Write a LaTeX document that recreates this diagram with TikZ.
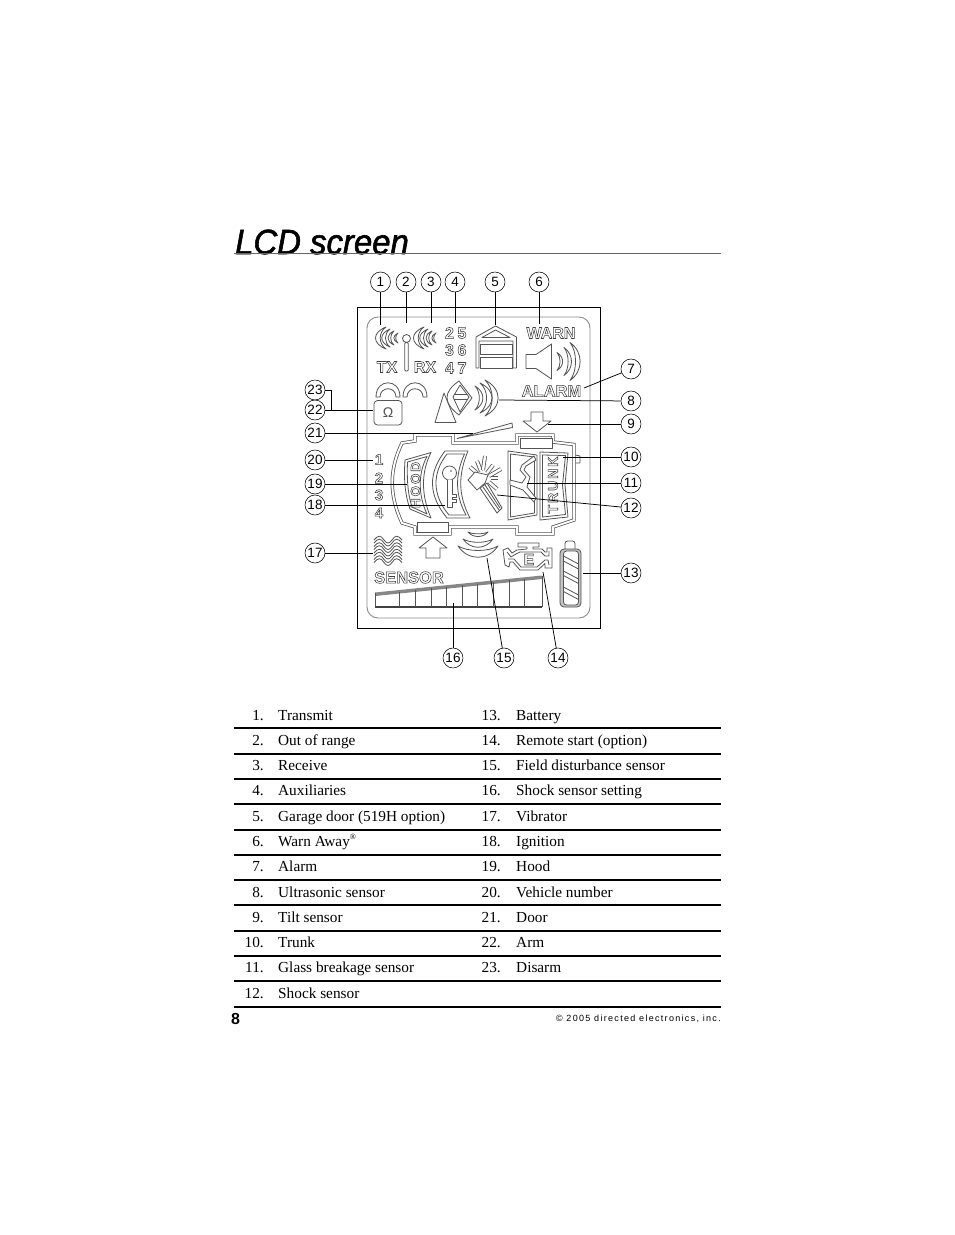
\documentclass[tikz,border=0pt]{standalone}
\usepackage{fontspec}
\setmainfont{Liberation Serif}
\newfontfamily\sansf{Liberation Sans}
\usetikzlibrary{calc}
\definecolor{lcdg}{gray}{0.33}
\definecolor{frameg}{gray}{0.55}
\newcommand\olt[1]{\special{pdf:code 1 Tr 0.55 w 0.25 G}#1\special{pdf:code 0 Tr}}
\newcommand\spc[1]{\addfontfeature{LetterSpace=#1}}
\tikzset{
 lcd/.style={draw=lcdg,line width=0.8pt,line join=round},
 num/.style={circle,draw=black,line width=0.55pt,minimum size=20pt,inner sep=0pt,font=\sansf\fontsize{13.5}{14}\selectfont},
 conn/.style={draw=black,line width=0.75pt},
 rowt/.style={anchor=base west,inner sep=0pt,font=\fontsize{15.3}{16}\selectfont},
 rown/.style={anchor=base east,inner sep=0pt,font=\fontsize{15.3}{16}\selectfont},
 rowline/.style={draw=black,line width=1.2pt},
 lcdtext/.style={inner sep=0pt,font=\sansf\bfseries\fontsize{#1}{#1}\selectfont},
 lcdtext/.default=15
}
% vertical crescent: x, centre y, half height, bulge (positive opens right)
\newcommand\vw[4]{\draw[lcd] (#1,{#2-#3}) .. controls ({#1-#4},{#2-0.5*#3}) and ({#1-#4},{#2+0.5*#3}) .. (#1,{#2+#3}) .. controls ({#1-0.55*#4},{#2+0.5*#3}) and ({#1-0.55*#4},{#2-0.5*#3}) .. cycle;}
% horizontal crescent: centre x, y, half width, bulge (positive bulges down)
\newcommand\hw[4]{\draw[lcd] ({#1-#3},#2) .. controls ({#1-0.5*#3},{#2+#4}) and ({#1+0.5*#3},{#2+#4}) .. ({#1+#3},#2) .. controls ({#1+0.5*#3},{#2+0.4*#4}) and ({#1-0.5*#3},{#2+0.4*#4}) .. cycle;}
\newcommand\arch[1]{\draw[lcd] (#1,397) .. controls (#1,378) and ({#1+24},378) .. ({#1+24},397) -- ({#1+20},397) .. controls ({#1+20},386) and ({#1+4},386) .. ({#1+4},397) -- cycle;}
\newcommand\wavy[1]{\draw[lcd] (374,#1) .. controls (378,{#1-5}) and (381,{#1-5}) .. (384,#1) .. controls (387,{#1+4}) and (389,{#1+4}) .. (392,#1) .. controls (395,{#1-5}) and (398,{#1-5}) .. (402,#1);
 \draw[lcd] (374,{#1+3}) .. controls (378,{#1-2}) and (381,{#1-2}) .. (384,{#1+3}) .. controls (387,{#1+7}) and (389,{#1+7}) .. (392,{#1+3}) .. controls (395,{#1-2}) and (398,{#1-2}) .. (402,{#1+3});}
\newcommand\ray[4]{\draw[draw=lcdg,line width=4pt] (#1,#2) -- (#3,#4); \draw[draw=white,line width=2.4pt] (#1,#2) -- (#3,#4);}
\newcommand\rowL[4]{\node[rown] (nl#1) at (264,#2) {#1.}; \node[rowt] (tl#1) at (278,#2) {#3};}
\newcommand\rowR[3]{\node[rown] (nr#1) at (501,#2) {#1.}; \node[rowt] (tr#1) at (516,#2) {#3};}
\newcommand\carpath{(415,435) -- (453,435) -- (453,443) -- (517,443) -- (517,435) -- (553,435) -- (553,442) -- (574,444.5) -- (574,520) -- (553,527) -- (553,534) -- (517,534) -- (517,527) -- (450,527) -- (450,534) -- (415,534) -- (415,527) -- (402,523) .. controls (389,495) and (389,470) .. (402,443) -- (415,441) -- cycle}
\begin{document}
\begin{tikzpicture}[x=1pt,y=-1pt]
\useasboundingbox (0,0) rectangle (954,1235);
\fill[white] (0,0) rectangle (954,1235);
% title
\node[anchor=base west,inner sep=0pt,xscale=0.94,font=\sansf\itshape\fontsize{35}{36}\selectfont,transform shape] (title) at (235,254) {\special{pdf:code 2 Tr 0.6 w}LCD screen\special{pdf:code 0 Tr}};
\coordinate (ruleL) at (234,253.5); \coordinate (ruleR) at (721,253.5);
\draw[draw=black!60,line width=0.8pt] (ruleL) -- (ruleR);
% screen
\draw[black,line width=1pt] (357.5,307.5) rectangle (600.5,628);
\draw[frameg,line width=0.9pt,rounded corners=11pt] (367,317) rectangle (590,618);
% TX RX
\foreach \x/\h/\b in {386/11/14,390/9/11,394/7/8,398/5/5.5}{\vw{\x}{338}{\h}{\b}}
\foreach \x/\h/\b in {424/11/14,428/9/11,432/7/8,436/5/5.5}{\vw{\x}{338}{\h}{\b}}
\draw[lcd] (406.5,338.5) circle (4);
\draw[lcd,rounded corners=1pt] (404.8,342.5) rectangle (408.2,371);
\node[lcdtext=16] (tx) at (387,367) {\olt{TX}};
\node[lcdtext=16] (rx) at (425,367) {\olt{RX}};
% aux numbers
\foreach \t/\x/\y in {2/449.5/333,5/462/333,3/449.5/350,6/462/350,4/449.5/368,7/462/368}{\node[lcdtext=16] (aux\t) at (\x,\y) {\olt{\t}};}
% garage
\draw[lcd] (476,368) -- (476,337) -- (495.5,326) -- (516.5,337) -- (516.5,368) -- (513,368) -- (513,341) -- (479,341) -- (479,368) -- cycle;
\draw[lcd] (482,337.5) -- (495.5,330) -- (510,337.5) -- cycle;
\draw[lcd] (480,344) rectangle (512,354.5);
\draw[lcd] (480,357) rectangle (512,368);
% warn
\node[lcdtext=16] (warn) at (551,333) {\olt{WARN}};
\node[lcdtext=16.5] (alarm) at (551.5,391) {\olt{ALARM}};
\draw[lcd] (526,354.5) -- (536,354.5) -- (551.5,344) -- (551.5,379) -- (536,368.5) -- (526,368.5) -- cycle;
\foreach \x/\h/\b in {557/9/-7.5,564/14/-10,570/19/-13.5}{\vw{\x}{361.5}{\h}{\b}}
% arm disarm
\arch{376}
\arch{403}
\draw[lcd,rounded corners=3.5pt] (374,400.5) rectangle (402,425);
\node[inner sep=0pt,font=\sansf\fontsize{14}{14}\selectfont,text=lcdg] (lockn) at (388,412.5) {Ω};
% ultrasonic
\draw[lcd] (435,422.5) -- (444,393) -- (456,422.5) -- cycle;
\draw[lcd,fill=white] (459,381) .. controls (443,392) and (443,403) .. (459,415) -- (472,398) -- cycle;
\draw[lcd] (453,397) -- (460,385) -- (469,397) -- (460,412) -- cycle;
\draw[lcd] (454,394) -- (467,394) (454,399.5) -- (467,399.5);
\foreach \x/\h/\b in {475/12/-10.5,480/15/-16,485/18/-17.5}{\vw{\x}{398}{\h}{\b}}
% tilt
\draw[lcd] (537,432) -- (551,421) -- (543,421) -- (543,412) -- (531,412) -- (531,421) -- (523,421) -- cycle;
% door
\draw[lcd] (457,438.5) -- (512,423) -- (512.5,427.5) -- cycle;
% car
\draw[draw=lcdg,line width=3.4pt,line join=miter] \carpath;
\draw[draw=white,line width=1.9pt,line join=miter] \carpath;
\draw[lcd] (575.5,455) -- (580,456) -- (580,463) -- (575.5,463);
\draw[lcd,fill=white] (520,438.5) rectangle (552,448);
\draw[lcd,fill=white] (417,522) rectangle (448,532);
% hood
\draw[lcd] (405,460) -- (431,452.5) .. controls (421,472) and (421,495) .. (431,518) -- (410,509) .. controls (404,492) and (404,475) .. (405,460) -- cycle;
\draw[lcd] (407.5,462) -- (427,456.5) .. controls (418,473) and (418,495) .. (427,514) -- (412,507) .. controls (407,492) and (407,475) .. (407.5,462) -- cycle;
\node[lcdtext=13.5,rotate=90] (hood) at (415.5,485) {\spc{14}\olt{HOOD}};
% ignition
\draw[lcd] (445,451) -- (468,451) .. controls (458,475) and (458,495) .. (470,518) -- (447,518) .. controls (428,495) and (428,473) .. (445,451) -- cycle;
\draw[lcd] (447,454) -- (464.5,454) .. controls (455,475) and (455,495) .. (466,515) -- (449,515) .. controls (432,495) and (432,473) .. (447,454) -- cycle;
\draw[lcd] (449.5,473) circle (7);
\fill[lcdg] (451,471) circle (0.9);
\draw[lcd,fill=white] (447,479.5) -- (447,507) -- (452,507) -- (452,502) -- (456,502) -- (456,499) -- (452,499) -- (452,497) -- (456,497) -- (456,494) -- (452,494) -- (452,479.5);
% shock
\ray{470}{467}{477}{473}
\ray{477}{461}{481}{471}
\ray{485}{456}{483}{470}
\ray{493}{465}{487}{473}
\ray{501}{469}{489}{476}
\ray{498}{478}{491}{478}
\ray{497}{489}{489}{482}
\draw[lcd,fill=white] (480,488) -- (497,513) -- (502,508) -- (487,483) -- cycle;
\draw[lcd] (483,487) -- (499,510) (485,485) -- (500,508);
\draw[lcd,fill=white] (468,480) -- (475,472) -- (488,475) -- (485,483) -- (477,490) -- cycle;
% glass
\draw[lcd] (508,451) -- (537,455) -- (537,515) -- (508,520) -- cycle;
\draw[lcd] (510.5,454) -- (534.5,457) -- (534.5,513) -- (510.5,517) -- cycle;
\draw[lcd,fill=white] (534,456) -- (522,465) -- (520,470) -- (526,477) -- (522,483) -- (510,480) -- (510,485) -- (523,490) -- (534,502) -- (536,498) -- (527,487) -- (530,477) -- (524,470) -- (526,466) -- (536,460) -- cycle;
% trunk
\draw[lcd] (540,452) -- (568,453) -- (565,485) -- (568,517) -- (540,520) -- cycle;
\draw[lcd] (542.5,455) -- (565.5,455.5) -- (562.5,485) -- (565.5,514.5) -- (542.5,517) -- cycle;
\node[lcdtext=14,rotate=90] (trunk) at (553,485) {\spc{14}\olt{TRUNK}};
% vehicle numbers
\foreach \t/\y in {1/459.5,2/478,3/495,4/513}{\node[lcdtext=15] (veh\t) at (379,\y) {\olt{\t}};}
% vibrator
\foreach \y in {540,546.5,553,559.5}{\wavy{\y}}
% up arrow
\draw[lcd] (433,537) -- (447,548) -- (440,548) -- (440,558) -- (426,558) -- (426,548) -- (419,548) -- cycle;
% field
\hw{478}{532}{10}{6}
\hw{478}{539}{15}{11}
\hw{478}{546}{20}{15}
% engine
\draw[lcd] (518,543) -- (539,543) -- (539,547) -- (533,547) -- (533,549) -- (542,549) -- (545,552) -- (547,552) -- (547,548) -- (552,548) -- (552,568) -- (545,568) -- (545,563.5) -- (538,570) -- (520,570) -- (513,562) -- (510,562) -- (509,567) -- (505,565) -- (503,550) -- (508,548) -- (512,553) -- (517,550) -- (527,549) -- (527,547) -- (518,547) -- cycle;
\draw[lcd] (507,552) -- (511,557) -- (516,554) -- (520,552) -- (541,552) -- (545,556) -- (549,556) -- (549,551) (549,565) -- (548,560) -- (545,560) -- (537,567) -- (521,567) -- (514,559) -- (508,559);
\node[lcdtext=16] (eng) at (529,559.5) {\olt{E}};
% battery
\draw[lcd,rounded corners=2.5pt] (565,549) -- (565,541) -- (575,541) -- (575,549);
\draw[lcd,rounded corners=4pt,fill=lcdg!35] (560,549) rectangle (581,607);
\draw[lcd,rounded corners=3pt,fill=white] (563.5,551) rectangle (578.5,605);
\draw[lcd] (563.5,556) -- (578.5,564) (563.5,561) -- (578.5,569) (563.5,571) -- (578.5,579) (563.5,575.5) -- (578.5,583.5) (563.5,587) -- (578.5,595) (563.5,591.5) -- (578.5,599.5);
% sensor
\node[lcdtext=16.5] (sensor) at (409,577.5) {\olt{SENSOR}};
% bar
\fill[lcdg!70] (375,592.5) -- (542,575.5) -- (542,579) -- (375,596) -- cycle;
\draw[draw=black!75,line width=1.6pt] (375,607) -- (542,607);
\draw[lcd] (375,592.5) -- (375,607) (542,575.5) -- (542,607);
\foreach \x in {399.5,415,431,446.5,462,477.5,493.5,509,524.5}{\draw[lcd] (\x,{594-(\x-375)*0.1018}) -- (\x,607);}
% callouts
\foreach \n/\x/\y in {1/380.5/282,2/406/282,3/431/282,4/455/282,5/495/282,6/539/282,
 7/631/369,8/631/401,9/631/424,10/631/457,11/631/483,12/631/508,13/631/573,
 14/558/658,15/504/658,16/453/658,
 17/315/553,18/315/505,19/315/484,20/315/460,21/315/433,22/315/410,23/315/390}
 {\node[num] (c\n) at (\x,\y) {\n};}
\foreach \n/\x/\y in {1/380.5/325,2/406/323,3/431/323,4/455/323,5/495/325,6/539/324,
 7/584/388,8/499/400,9/548/424,10/563/457,11/527/483,12/497/495,13/583/573,
 14/543/572,15/487/558,16/453/603,17/373/553,18/445/505,19/407/484,20/373/460,21/473/433,22/373/410}
 {\coordinate (e\n) at (\x,\y);}
\foreach \n in {1,2,3,4,5,6,7,8,9,10,11,12,13,14,15,16,17,18,19,20,21,22}{\draw[conn] (c\n) -- (e\n);}
\coordinate (b23a) at (331,390); \coordinate (b23b) at (331,410);
\draw[conn] (c23) -- (b23a) -- (b23b);
% table
\rowL{1}{720}{Transmit}{}\rowR{13}{720}{Battery}
\rowL{2}{745}{Out of range}{}\rowR{14}{745}{Remote start (option)}
\rowL{3}{770}{Receive}{}\rowR{15}{770}{Field disturbance sensor}
\rowL{4}{795}{Auxiliaries}{}\rowR{16}{795}{Shock sensor setting}
\rowL{5}{821}{Garage door (519H option)}{}\rowR{17}{821}{Vibrator}
\rowL{6}{846}{Warn Away\raisebox{0.45em}{\fontsize{8}{8}\selectfont ®}}{}\rowR{18}{846}{Ignition}
\rowL{7}{871}{Alarm}{}\rowR{19}{871}{Hood}
\rowL{8}{897}{Ultrasonic sensor}{}\rowR{20}{897}{Vehicle number}
\rowL{9}{922}{Tilt sensor}{}\rowR{21}{922}{Door}
\rowL{10}{947}{Trunk}{}\rowR{22}{947}{Arm}
\rowL{11}{972}{Glass breakage sensor}{}\rowR{23}{972}{Disarm}
\rowL{12}{998}{Shock sensor}{}
\foreach \y in {728,754,779,804,855,880,905,931,956,981,1007}{\draw[rowline] (234,\y) -- (721,\y);}
\draw[draw=black,line width=2pt] (234,829.5) -- (721,829.5);
% footer
\node[anchor=base west,inner sep=0pt,font=\sansf\bfseries\fontsize{16}{16}\selectfont] (page) at (231,1024) {8};
\node[anchor=base east,inner sep=0pt,font=\sansf\fontsize{9}{9}\selectfont] (copy) at (721,1021) {\addfontfeature{LetterSpace=14.5}© 2005 directed electronics, inc.};
\end{tikzpicture}
\end{document}
